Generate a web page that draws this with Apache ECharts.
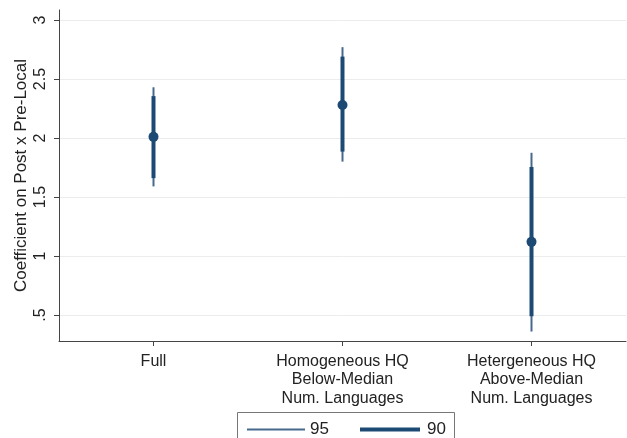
<!DOCTYPE html>
<html>
<head>
<meta charset="utf-8">
<script src="https://cdn.jsdelivr.net/npm/echarts@6/dist/echarts.min.js"></script>
<style>html,body{margin:0;padding:0;background:#fff}#c{width:627px;height:438px}</style>
</head>
<body>
<div id="c"></div>
<script>
const categories = ['Full', 'Homogeneous HQ\nBelow-Median\nNum. Languages', 'Hetergeneous HQ\nAbove-Median\nNum. Languages'];
const coef = [2.01, 2.28, 1.12];
const ci95Low = [1.59, 1.80, 0.36];
const ci95High = [2.43, 2.77, 1.875];
const ci90Low = [1.66, 1.885, 0.49];
const ci90High = [2.355, 2.69, 1.755];
const yTicks = [0.5, 1, 1.5, 2, 2.5, 3];
const yTickLabels = ['.5', '1', '1.5', '2', '2.5', '3'];

const FONT = "'Liberation Sans', Arial, Helvetica, sans-serif";
const NAVY = '#1c4a74';
const THIN = '#46698c';

function ciRenderer(width, color) {
  return function (params, api) {
    const x = api.value(0);
    const p1 = api.coord([x, api.value(1)]);
    const p2 = api.coord([x, api.value(2)]);
    return {
      type: 'line',
      shape: { x1: p1[0], y1: p1[1], x2: p2[0], y2: p2[1] },
      style: { stroke: color, lineWidth: width }
    };
  };
}

const chart = echarts.init(document.getElementById('c'), null, { renderer: 'canvas' });
chart.setOption({
  backgroundColor: '#ffffff',
  animation: false,
  textStyle: { fontFamily: FONT },
  grid: { left: 59, right: 1, top: 10, bottom: 97, containLabel: false },
  legend: [
    {
      data: ['95'], left: 242, top: 416, itemWidth: 58, itemHeight: 2, icon: 'rect', itemGap: 0,
      textStyle: { fontSize: 17, color: '#222', fontFamily: FONT, padding: [0, 0, 0, 0] },
      selectedMode: false
    },
    {
      data: ['90'], left: 355, top: 416, itemWidth: 60, itemHeight: 4, icon: 'rect', itemGap: 0,
      textStyle: { fontSize: 17, color: '#222', fontFamily: FONT, padding: [0, 0, 0, 2] },
      selectedMode: false
    }
  ],
  graphic: [{
    type: 'rect', left: 235, top: 410, silent: true,
    shape: { width: 217, height: 40 },
    style: { fill: 'none', stroke: '#777', lineWidth: 1 }
  }],
  xAxis: {
    type: 'category',
    data: categories,
    boundaryGap: true,
    axisLine: { show: true, lineStyle: { color: '#444', width: 1 } },
    axisTick: { show: true, alignWithLabel: true, length: 5, lineStyle: { color: '#444' } },
    axisLabel: { fontSize: 16, lineHeight: 18.5, color: '#222', margin: 11, fontFamily: FONT, interval: 0 },
    splitLine: { show: false }
  },
  yAxis: {
    type: 'value',
    min: 0.2797,
    max: 3.085,
    name: 'Coefficient on Post x Pre-Local',
    nameLocation: 'middle',
    nameRotate: 90,
    nameGap: 29,
    nameMoveOverlap: false,
    nameTextStyle: { fontSize: 17, color: '#222', fontFamily: FONT },
    axisLine: { show: true, lineStyle: { color: '#444', width: 1 } },
    axisTick: { show: true, length: 5, customValues: yTicks, lineStyle: { color: '#444' } },
    axisLabel: {
      customValues: yTicks, rotate: 90, fontSize: 16, color: '#222', margin: 10, fontFamily: FONT,
      formatter: function (v) {
        const i = yTicks.findIndex(t => Math.abs(t - v) < 1e-6);
        return i >= 0 ? yTickLabels[i] : '';
      }
    },
    splitLine: { show: false }
  },
  series: [
    {
      name: 'grid', type: 'line', data: [], silent: true, z: 0,
      markLine: {
        silent: true, symbol: 'none', label: { show: false }, z: 0, animation: false,
        lineStyle: { color: '#ececec', width: 1, type: 'solid' },
        data: yTicks.map(v => ({ yAxis: v }))
      }
    },
    {
      name: '95', type: 'custom', z: 2,
      itemStyle: { color: THIN },
      renderItem: ciRenderer(2, THIN),
      encode: { x: 0, y: [1, 2] },
      data: categories.map((c, i) => [i, ci95Low[i], ci95High[i]])
    },
    {
      name: '90', type: 'custom', z: 3,
      itemStyle: { color: NAVY },
      renderItem: ciRenderer(4, NAVY),
      encode: { x: 0, y: [1, 2] },
      data: categories.map((c, i) => [i, ci90Low[i], ci90High[i]])
    },
    {
      name: 'coef', type: 'scatter', z: 4,
      symbol: 'circle', symbolSize: 10,
      itemStyle: { color: NAVY, opacity: 1 },
      data: categories.map((c, i) => [i, coef[i]])
    }
  ]
});
</script>
</body>
</html>
